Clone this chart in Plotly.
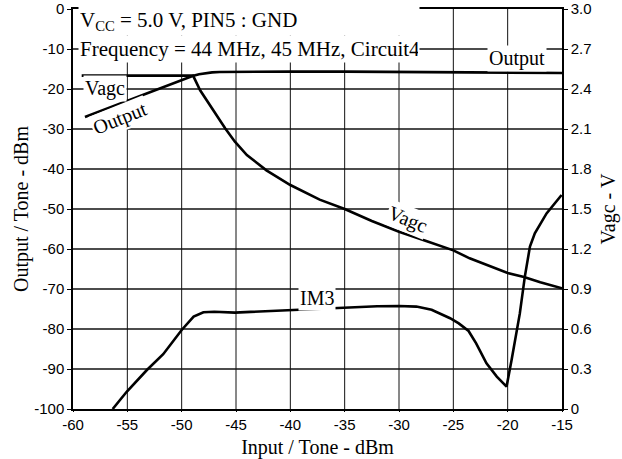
import plotly.graph_objects as go

# Output tone level vs input tone level (dBm, left axis)
output_x = [-58.9, -56.0, -53.0, -50.2, -49.0, -48.4, -47.8, -47.2, -46.5, -45.0,
            -40.0, -35.0, -30.0, -25.0, -20.0, -15.0]
output_y = [-27.0, -24.0, -20.9, -17.9, -16.75, -16.3, -16.0, -15.85, -15.75, -15.7,
            -15.65, -15.65, -15.7, -15.8, -15.9, -16.0]

# AGC control voltage (V, right axis)
vagc_x = [-59.2, -55.0, -52.0, -49.8, -48.95, -48.3, -47.1, -46.0, -45.1, -44.0,
          -42.2, -40.0, -37.3, -35.0, -32.5, -30.0, -27.5, -25.0, -23.5, -21.5,
          -20.0, -18.5, -17.0, -15.0]
vagc_v = [2.5, 2.5, 2.5, 2.5, 2.5, 2.39, 2.24, 2.105, 2.005, 1.905,
          1.79, 1.68, 1.57, 1.50, 1.41, 1.33, 1.26, 1.19, 1.13, 1.07,
          1.02, 0.99, 0.95, 0.905]

# Third-order intermodulation level (dBm, left axis)
im3_x = [-56.35, -55.06, -53.2, -51.7, -50.0, -48.9, -48.0, -47.0, -45.1, -42.0,
         -39.1, -35.0, -32.0, -30.0, -28.4, -27.0, -25.3, -24.5, -23.6, -22.9,
         -21.95, -21.0, -20.4, -20.1, -19.64, -18.88, -18.42, -17.95, -17.5,
         -16.42, -15.04]
im3_y = [-100.0, -95.7, -90.25, -86.3, -80.25, -76.9, -75.8, -75.7, -75.9, -75.5,
         -75.2, -74.6, -74.3, -74.25, -74.4, -75.2, -77.3, -78.6, -80.5, -83.6,
         -88.6, -91.9, -93.75, -94.4, -87.75, -76.1, -66.9, -59.4, -56.1,
         -51.1, -46.5]

x_range = [-60, -15]
y_range = [-100, 0]
v_range = [0, 3.0]
x_ticks = [-60, -55, -50, -45, -40, -35, -30, -25, -20, -15]
x_tick_text = ["-60", "-55", "-50", "-45", "-40", "-35", "-30", "-25", "-20", "-15"]
y_ticks = [-100, -90, -80, -70, -60, -50, -40, -30, -20, -10, 0]
y_tick_text = ["-100", "-90", "-80", "-70", "-60", "-50", "-40", "-30", "-20", "-10", "0"]
v_ticks = [0, 0.3, 0.6, 0.9, 1.2, 1.5, 1.8, 2.1, 2.4, 2.7, 3.0]
v_tick_text = ["0", "0.3", "0.6", "0.9", "1.2", "1.5", "1.8", "2.1", "2.4", "2.7", "3.0"]

SERIF = "Liberation Serif"
SANS = "Liberation Sans"
line_style = dict(color="black", width=2.6)
grid_line = dict(color="#111111", width=1)
hgrid_line = dict(color="#111111", width=1.4)

fig = go.Figure()

# Vertical grid: one line per interior input tick
for v in x_ticks[1:-1]:
    fig.add_shape(type="line", xref="x", yref="y domain", x0=v, x1=v, y0=0, y1=1,
                  line=grid_line, layer="below")

# Horizontal grid: a broken line trace across the input range at each dBm tick
grid_x, grid_y = [], []
for v in y_ticks[1:-1]:
    grid_x += [x_range[0], x_range[1], None]
    grid_y += [v, v, None]
fig.add_trace(go.Scatter(x=grid_x, y=grid_y, mode="lines", line=hgrid_line,
                         hoverinfo="skip", name="grid", yaxis="y"))

fig.add_trace(go.Scatter(x=output_x, y=output_y, mode="lines", line=line_style,
                         name="Output", yaxis="y"))
fig.add_trace(go.Scatter(x=im3_x, y=im3_y, mode="lines", line=line_style,
                         name="IM3", yaxis="y"))
fig.add_trace(go.Scatter(x=vagc_x, y=vagc_v, mode="lines", line=line_style,
                         name="Vagc", yaxis="y2"))

label_font = dict(family=SERIF, size=20, color="black")


def label(text, x, y, angle=0, xanchor="center", size=20, width=None):
    fig.add_annotation(text=text, x=x, y=y, xref="x", yref="y", showarrow=False,
                       textangle=angle, xanchor=xanchor, yanchor="middle",
                       align="left", width=width,
                       font=dict(family=SERIF, size=size, color="black"),
                       bgcolor="white", borderpad=1)


# Test conditions block in the upper-left corner
label("V<sub>CC</sub> = 5.0 V, PIN5 : GND", -59.5, -3.0, xanchor="left", size=21, width=338)
label("Frequency = 44 MHz, 45 MHz, Circuit4", -59.5, -10.0, xanchor="left", size=21, width=338)

# Curve labels
label("Vagc", -59.1, -19.75, xanchor="left")
label("Output", -55.7, -27.3, angle=-22)
label("Output", -19.15, -12.25)
label("Vagc", -29.2, -52.5, angle=22)
label("IM3", -37.56, -72.25)

tick_font = dict(family=SANS, size=15, color="black")

fig.update_layout(
    template="none",
    width=622, height=459,
    margin=dict(l=73, r=60, t=9, b=50),
    paper_bgcolor="white", plot_bgcolor="white",
    showlegend=False,
    xaxis=dict(range=x_range, tickvals=x_ticks, ticktext=x_tick_text,
               ticks="outside", ticklen=1, tickcolor="black", automargin=False,
               showline=True, linecolor="black", linewidth=1.5, showgrid=False,
               mirror=True, zeroline=False, tickfont=tick_font,
               title=dict(text="Input / Tone - dBm", font=label_font, standoff=10)),
    yaxis=dict(range=y_range, tickvals=y_ticks, ticktext=y_tick_text,
               ticks="outside", ticklen=4, tickcolor="black", automargin=False,
               showline=True, linecolor="black", linewidth=1.5, showgrid=False,
               zeroline=False, tickfont=tick_font,
               title=dict(text="Output / Tone - dBm", font=label_font, standoff=0)),
    yaxis2=dict(range=v_range, tickvals=v_ticks, ticktext=v_tick_text,
                overlaying="y", side="right", ticks="outside", ticklen=4,
                tickcolor="black", automargin=False,
                showline=True, linecolor="black", linewidth=1.5,
                showgrid=False, zeroline=False, tickfont=tick_font,
                title=dict(text="Vagc - V", font=label_font, standoff=10)),
)

fig.write_html("out.html")
